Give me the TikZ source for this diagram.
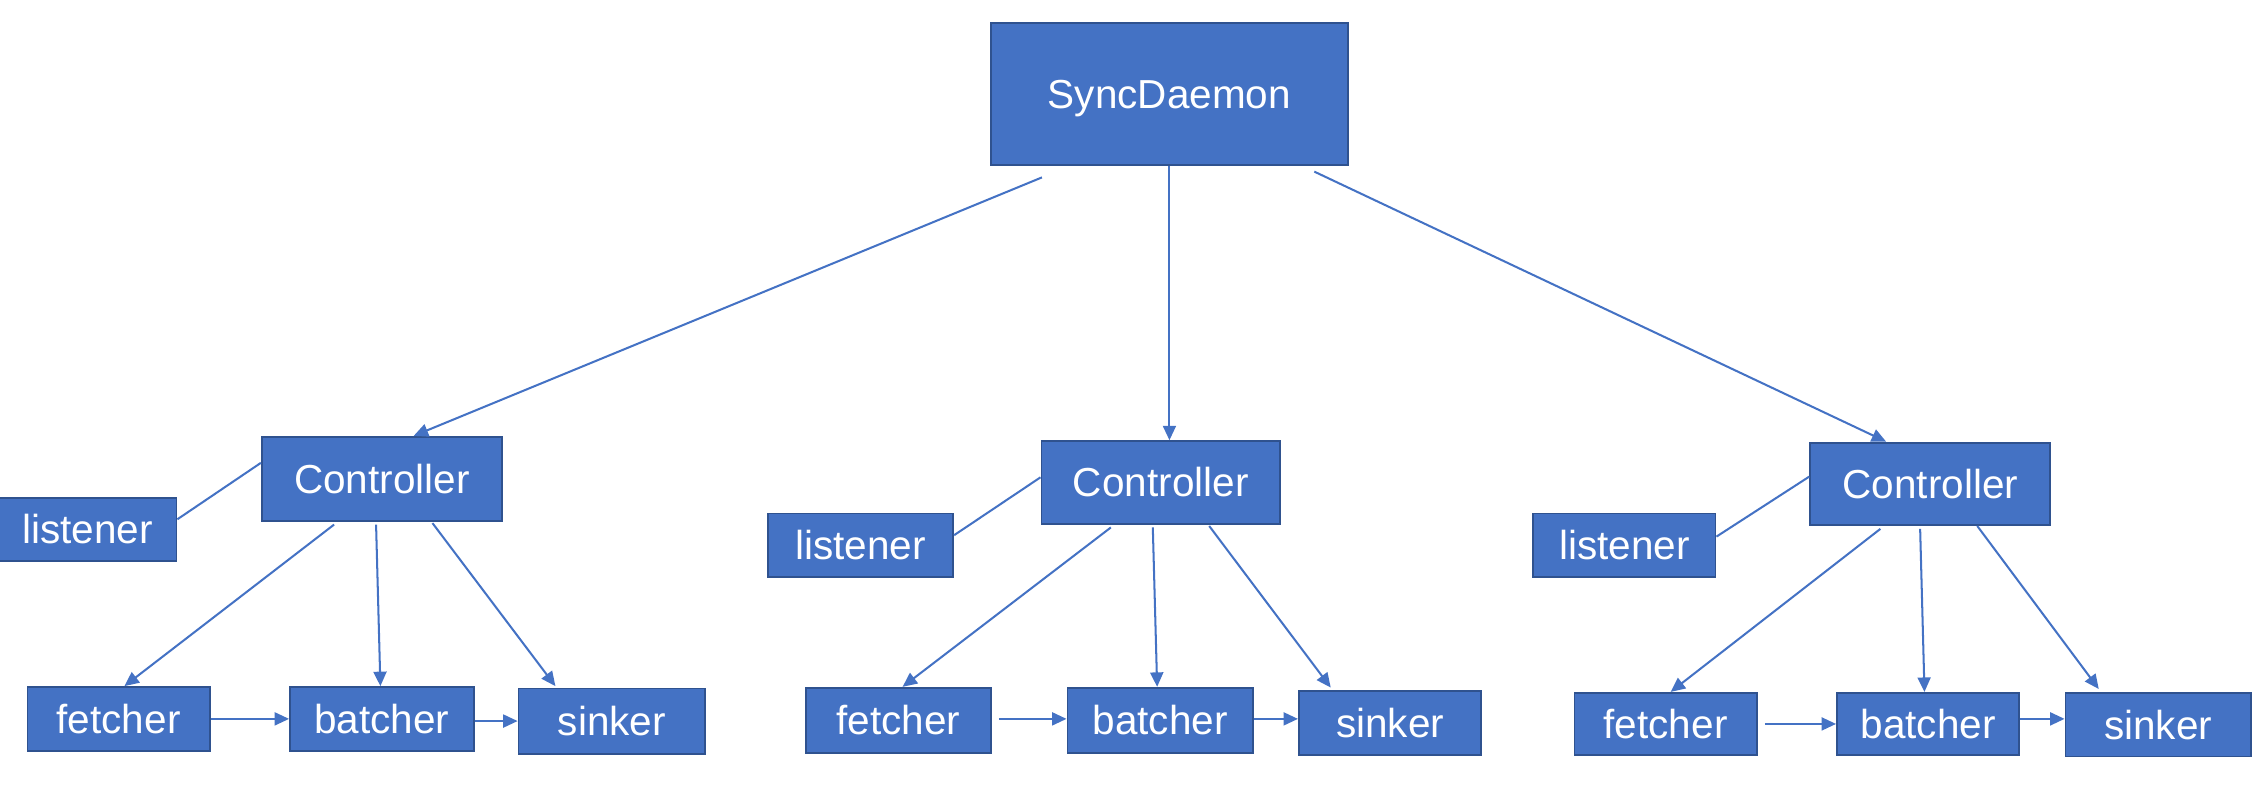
\documentclass[tikz,border=0pt]{standalone}
\usepackage{fontspec}
\setmainfont{Liberation Sans}
\usetikzlibrary{arrows.meta,calc}
\definecolor{boxfill}{HTML}{4472C4}
\definecolor{boxline}{HTML}{2F528F}
\definecolor{linkc}{HTML}{4472C4}
\tikzset{
  box/.style={draw=boxline, line width=1.3pt, fill=boxfill, text=white, inner sep=0pt,
    font=\fontsize{28}{34}\selectfont, text height=20pt, text depth=0pt},
  link/.style={draw=linkc, line width=1.4pt},
  arr/.style={link, -{Triangle[length=10pt,width=9pt]}}
}
\begin{document}
\begin{tikzpicture}[x=1pt,y=-1pt]
\useasboundingbox (0,0) rectangle (1568,551.7);
% top
\node[box, minimum width=247pt, minimum height=98pt] (sd) at (808.5,65) {SyncDaemon};
% group 1
\node[box, minimum width=166pt, minimum height=58pt] (c1) at (264,331) {Controller};
\node[box, minimum width=123pt, minimum height=44pt] (l1) at (60.5,366) {listener};
\node[box, minimum width=126pt, minimum height=44pt] (f1) at (82,497) {fetcher};
\node[box, minimum width=127pt, minimum height=44pt] (b1) at (264,497) {batcher};
\node[box, minimum width=129pt, minimum height=45pt] (s1) at (423,498.5) {sinker};
% group 2
\node[box, minimum width=165pt, minimum height=57pt] (c2) at (802.5,333.5) {Controller};
\node[box, minimum width=128pt, minimum height=44pt] (l2) at (595,377) {listener};
\node[box, minimum width=128pt, minimum height=45pt] (f2) at (621,498) {fetcher};
\node[box, minimum width=128pt, minimum height=45pt] (b2) at (802,498) {batcher};
\node[box, minimum width=126pt, minimum height=44pt] (s2) at (961,500) {sinker};
% group 3
\node[box, minimum width=166pt, minimum height=57pt] (c3) at (1334.5,334.5) {Controller};
\node[box, minimum width=126pt, minimum height=44pt] (l3) at (1123,377) {listener};
\node[box, minimum width=126pt, minimum height=43pt] (f3) at (1151.5,500.5) {fetcher};
\node[box, minimum width=126pt, minimum height=43pt] (b3) at (1333,500.5) {batcher};
\node[box, minimum width=128pt, minimum height=44pt] (s3) at (1492,501) {sinker};
% daemon links
\draw[arr] ([shift={(36,8)}]sd.south west) -- ([shift={(22,0)}]c1.north);
\draw[arr] (sd.south) -- (sd.south |- c2.north);
\draw[arr] ([shift={(-24,4)}]sd.south east) -- ([shift={(-30.5,0)}]c3.north);
% group 1 links
\draw[link] ([shift={(0,-11)}]c1.west) -- ([shift={(0,-7)}]l1.east);
\draw[arr] ([shift={(-33,2)}]c1.south) -- ([shift={(4,0)}]f1.north);
\draw[arr] ([shift={(-4,2)}]c1.south) -- ([shift={(-1,0)}]b1.north);
\draw[arr] ([shift={(35,1)}]c1.south) -- ([shift={(-39,-1)}]s1.north);
\draw[arr] (f1.east) -- (f1.east -| b1.west);
\draw[arr] (b1.east |- s1.west) -- (s1.west);
% group 2 links
\draw[link] ([shift={(0,-3.5)}]c2.west) -- ([shift={(0,-7)}]l2.east);
\draw[arr] ([shift={(-34.5,2)}]c2.south) -- ([shift={(3,0)}]f2.north);
\draw[arr] ([shift={(-5.5,2)}]c2.south) -- ([shift={(-2,0)}]b2.north);
\draw[arr] ([shift={(33.5,1)}]c2.south) -- ([shift={(-41,-2)}]s2.north);
\draw[arr] ([shift={(5,-1)}]f2.east) -- ([shift={(0,-1)}]b2.west);
\draw[arr] ([shift={(0,-1)}]b2.east) -- ([shift={(0,-3)}]s2.west);
% group 3 links
\draw[link] ([shift={(0,-5)}]c3.west) -- ([shift={(0,-6)}]l3.east);
\draw[arr] ([shift={(-34.5,2)}]c3.south) -- ([shift={(3.5,0)}]f3.north);
\draw[arr] ([shift={(-7,2)}]c3.south) -- ([shift={(-2.5,0)}]b3.north);
\draw[arr] ([shift={(32.5,0)}]c3.south) -- ([shift={(-41,-2)}]s3.north);
\draw[arr] ([shift={(5,0)}]f3.east) -- (b3.west);
\draw[arr] ([shift={(0,-3.5)}]b3.east) -- ([shift={(0,-4)}]s3.west);
\end{tikzpicture}
\end{document}
